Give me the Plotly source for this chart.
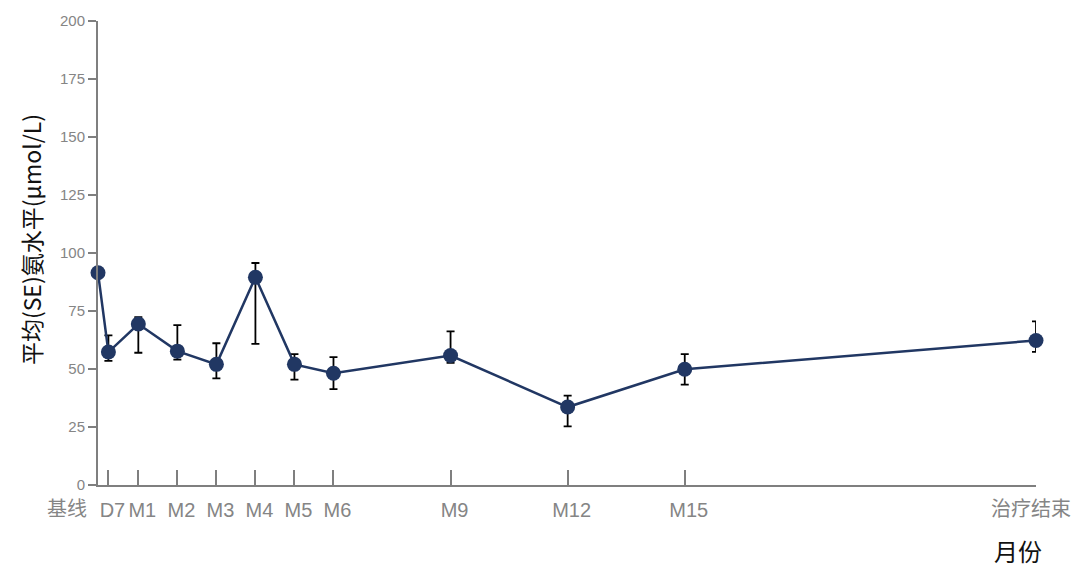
import plotly.graph_objects as go

# Visit schedule (study day) and labels
visit_labels = ["基线", "D7", "M1", "M2", "M3", "M4", "M5", "M6", "M9", "M12", "M15", "治疗结束"]
visit_days = [-1, 7, 30, 60, 90, 120, 150, 180, 270, 360, 450, 720]

# Mean ammonia level and SE bar ends (µmol/L)
mean_values = [91.5, 57.3, 69.4, 57.7, 52.0, 89.5, 52.0, 48.2, 55.8, 33.6, 49.9, 62.3]
upper_values = [91.5, 64.5, 72.4, 68.9, 61.1, 95.7, 56.4, 55.1, 66.2, 38.5, 56.4, 70.5]
lower_values = [91.5, 53.5, 57.0, 54.0, 46.0, 60.8, 45.4, 41.3, 52.7, 25.3, 43.3, 57.4]

y_ticks = [0, 25, 50, 75, 100, 125, 150, 175, 200]

err_plus = [u - m for u, m in zip(upper_values, mean_values)]
err_minus = [m - l for m, l in zip(mean_values, lower_values)]

navy = "#213763"
axis_grey = "#7f7f7f"
label_grey = "#858585"

fig = go.Figure()
fig.add_trace(go.Scatter(
    x=visit_days,
    y=mean_values,
    mode="lines+markers",
    line=dict(color=navy, width=2.5),
    marker=dict(color=navy, size=15),
    error_y=dict(type="data", symmetric=False, array=err_plus, arrayminus=err_minus,
                 color="black", thickness=1.8, width=4),
    cliponaxis=False,
    showlegend=False,
))

# The first and last visit labels sit beside their ticks rather than centred
middle_text = [""] + visit_labels[1:-1] + [""]
fig.update_xaxes(
    range=[visit_days[0], visit_days[-1]],
    tickmode="array", tickvals=visit_days, ticktext=middle_text,
    ticks="inside", ticklen=15, tickwidth=1.5, tickcolor=axis_grey,
    ticklabelshift=4, ticklabelstandoff=6,
    showline=True, linecolor=axis_grey, linewidth=2,
    showgrid=False, zeroline=False,
    tickfont=dict(family="Liberation Sans, Arial, sans-serif", size=20, color=label_grey),
)
fig.update_yaxes(
    range=[0, 200],
    tickmode="array", tickvals=y_ticks,
    ticks="outside", ticklen=8, tickwidth=1.5, tickcolor=axis_grey,
    showline=True, linecolor=axis_grey, linewidth=2,
    showgrid=False, zeroline=False,
    tickfont=dict(family="Liberation Sans, Arial, sans-serif", size=15, color=label_grey),
)

tick_font = dict(family="Noto Sans CJK SC, Liberation Sans, sans-serif", size=20, color=label_grey)
fig.add_annotation(x=visit_days[0], y=0, yref="paper", text=visit_labels[0], showarrow=False,
                   xanchor="right", yanchor="top", xshift=-9, yshift=-6, font=tick_font)
fig.add_annotation(x=visit_days[-1], y=0, yref="paper", text=visit_labels[-1], showarrow=False,
                   xanchor="right", yanchor="top", xshift=37, yshift=-6, font=tick_font)

# Axis titles
fig.add_annotation(x=(1018 - 98) / (1036 - 98), y=-(551 - 485) / (485 - 17),
                   xref="paper", yref="paper", text="月份", showarrow=False,
                   xanchor="center", yanchor="middle",
                   font=dict(family="Noto Sans CJK SC, sans-serif", size=24, color="#111111"))
fig.add_annotation(x=-(98 - 31) / (1036 - 98), y=(485 - 238) / (485 - 17), xref="paper", yref="paper",
                   text="平均(SE)氨水平(μmol/L)", showarrow=False, textangle=-90,
                   xanchor="center", yanchor="middle",
                   font=dict(family="Noto Sans CJK SC, Liberation Sans, sans-serif", size=23, color="#111111"))

fig.update_layout(
    width=1074, height=567,
    margin=dict(l=98, r=38, t=15, b=82),
    plot_bgcolor="white", paper_bgcolor="white",
)

fig.write_html("out.html")
